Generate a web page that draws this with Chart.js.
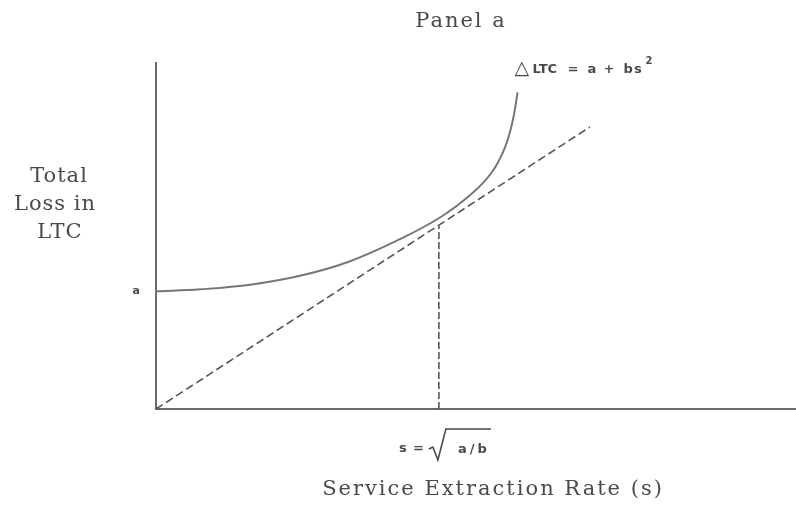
<!DOCTYPE html>
<html>
<head>
<meta charset="utf-8">
<script src="https://cdn.jsdelivr.net/npm/chart.js@4.4.0/dist/chart.umd.min.js"></script>
<style>
  html, body { margin: 0; padding: 0; background: #fff; }
  #wrap { width: 796px; height: 512px; }
</style>
</head>
<body>
<div id="wrap"><canvas id="chart"></canvas></div>
<script>
// curve  dLTC = a + b s^2 (abstract units)
const curveS   = [0, 0.7, 1.5, 2.25, 3.0, 3.8, 4.45, 4.95, 5.25, 5.45, 5.57, 5.65]
const curveLTC = [3.4, 3.46, 3.6, 3.85, 4.25, 4.9, 5.55, 6.25, 6.85, 7.55, 8.3, 9.15]
// dashed ray from the origin
const rayS   = [0, 6.78]
const rayLTC = [0, 8.15]
// dashed drop line at s = sqrt(a/b)
const dropS   = [4.42, 4.42]
const dropLTC = [0, 5.3]

const interceptA = 3.4
const axisMaxS = 10
const axisMaxLTC = 10

const ink = '#4a4a4a'
const toPoints = (xs, ys) => xs.map((x, i) => ({ x: x, y: ys[i] }))

// all the lettering of the diagram, placed through the scales
const labelsPlugin = {
	id: 'labels',
	afterDraw(chart) {
		const ctx = chart.ctx
		const xs = chart.scales.x
		const ys = chart.scales.y
		const area = chart.chartArea
		ctx.save()
		ctx.fillStyle = ink
		ctx.strokeStyle = ink
		ctx.textBaseline = 'middle'
		ctx.textAlign = 'center'

		ctx.font = '21px "DejaVu Serif"'
		ctx.letterSpacing = '2px'
		ctx.fillText('Panel a', 461, 22)
		ctx.fillText('Service Extraction Rate (s)', 493, 490)
		ctx.letterSpacing = '1px'
		ctx.fillText('Total', area.left - 97, 177)
		ctx.fillText('Loss in', area.left - 101, 205)
		ctx.fillText('LTC', area.left - 96, 233)
		ctx.letterSpacing = '0px'

		// "a" on the vertical axis
		ctx.font = 'bold 11px "DejaVu Sans"'
		ctx.textAlign = 'right'
		ctx.fillText('a', area.left - 16, ys.getPixelForValue(interceptA))

		// formula next to the curve end
		const fx = xs.getPixelForValue(curveS[curveS.length - 1])
		const fy = ys.getPixelForValue(curveLTC[curveLTC.length - 1]) - 23
		ctx.textAlign = 'left'
		ctx.font = '19px "DejaVu Sans"'
		ctx.fillText('\u25B3', fx - 3, fy)
		ctx.font = 'bold 13px "DejaVu Sans"'
		ctx.fillText('LTC', fx + 15, fy)
		ctx.fillText('=', fx + 50, fy)
		ctx.fillText('a', fx + 70, fy)
		ctx.fillText('+', fx + 86, fy)
		ctx.letterSpacing = '1px'
		ctx.fillText('bs', fx + 106, fy)
		ctx.letterSpacing = '0px'
		ctx.font = 'bold 10px "DejaVu Sans"'
		ctx.fillText('2', fx + 128, fy - 8)

		// s = sqrt(a/b) under the drop line
		const sx = xs.getPixelForValue(dropS[0])
		const sy = xs.bottom + 32
		ctx.font = 'bold 13px "DejaVu Sans"'
		ctx.fillText('s', sx - 40, sy)
		ctx.fillText('=', sx - 26, sy)
		ctx.letterSpacing = '3px'
		ctx.fillText('a/b', sx + 19, sy + 1)
		ctx.letterSpacing = '0px'
		ctx.lineWidth = 1.6
		ctx.beginPath()
		ctx.moveTo(sx - 10, sy)
		ctx.lineTo(sx - 6, sy - 2)
		ctx.lineTo(sx - 1, sy + 11)
		ctx.lineTo(sx + 7, sy - 20)
		ctx.lineTo(sx + 52, sy - 20)
		ctx.stroke()
		ctx.restore()
	}
}

new Chart(document.getElementById('chart'), {
	type: 'scatter',
	data: {
		datasets: [
			{
				data: toPoints(curveS, curveLTC),
				showLine: true,
				borderColor: '#777',
				borderWidth: 2,
				pointRadius: 0,
				tension: 0.4,
			},
			{
				data: toPoints(rayS, rayLTC),
				showLine: true,
				borderColor: '#555',
				borderWidth: 1.6,
				borderDash: [8, 4],
				pointRadius: 0,
			},
			{
				data: toPoints(dropS, dropLTC),
				showLine: true,
				borderColor: '#555',
				borderWidth: 1.6,
				borderDash: [7, 3],
				pointRadius: 0,
			},
		],
	},
	options: {
		responsive: true,
		maintainAspectRatio: false,
		animation: false,
		layout: { padding: { left: 148, top: 63, right: 0, bottom: 95 } },
		plugins: {
			legend: { display: false },
			tooltip: { enabled: false },
		},
		scales: {
			x: {
				type: 'linear',
				min: 0,
				max: axisMaxS,
				grid: { display: false },
				ticks: { display: false },
				border: { color: '#6a6a6a', width: 2 },
			},
			y: {
				type: 'linear',
				min: 0,
				max: axisMaxLTC,
				grid: { display: false },
				ticks: { display: false },
				border: { color: '#6a6a6a', width: 2 },
			},
		},
	},
	plugins: [labelsPlugin],
})
</script>
</body>
</html>
